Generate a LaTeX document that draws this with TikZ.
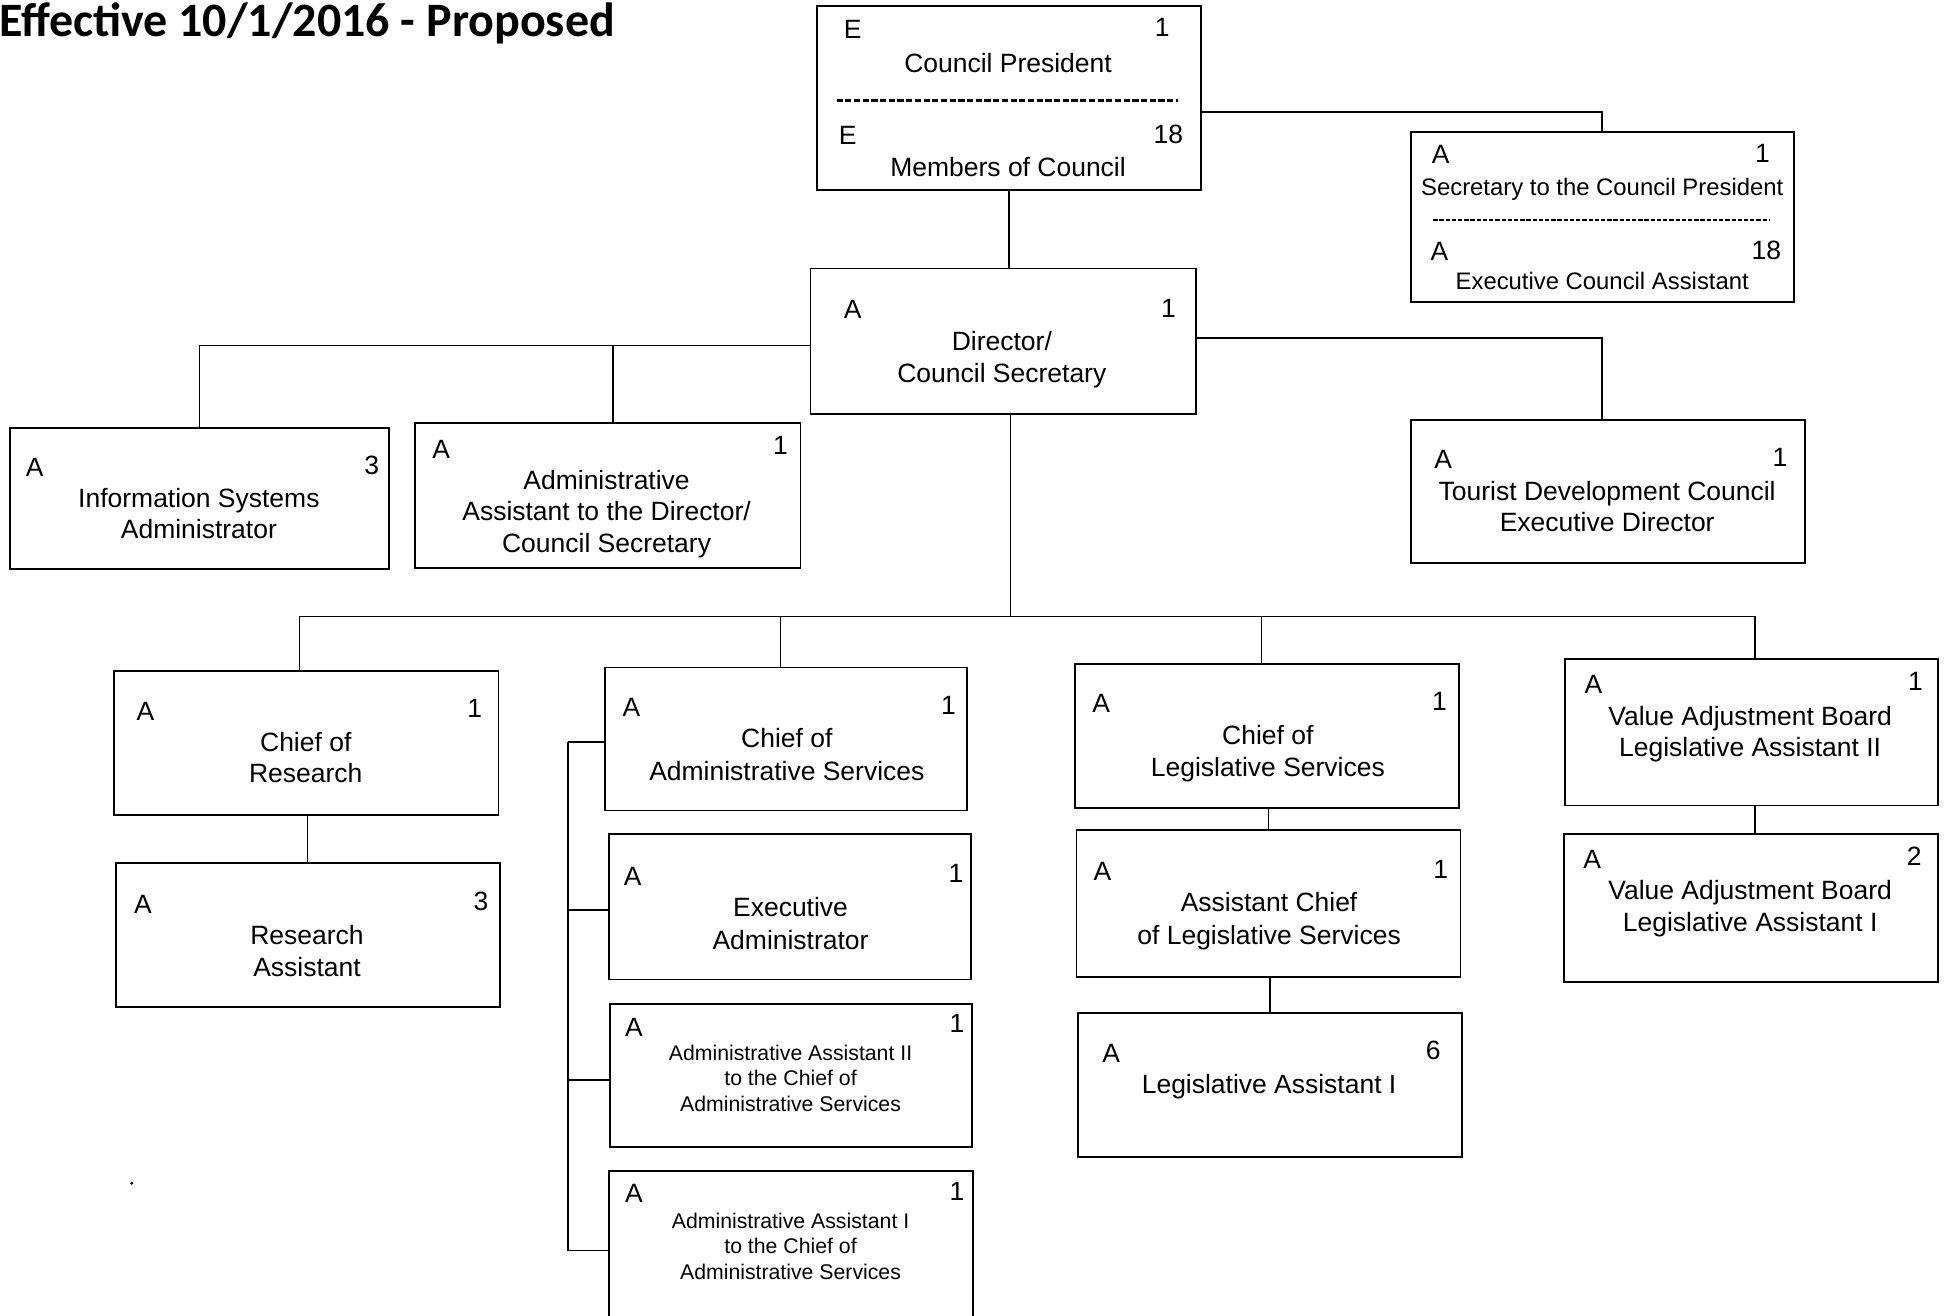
\documentclass[tikz,border=0pt]{standalone}
\usepackage{fontspec}
\setmainfont{Liberation Sans}
\newfontfamily\titlefont{Carlito}
\newcommand\obox[5]{\node[orgbox, minimum width={(#4-#2)*1pt}, minimum height={(#5-#3)*1pt}] (#1) at ({(#2+#4)/2},{-(#3+#5)/2}) {};}
\newcommand\lab[5]{\node[#1] (#2) at (#3,{-(#4)}) {#5};}
\begin{document}
\begin{tikzpicture}[x=1pt,y=1pt,
  orgbox/.style={draw, rectangle, line width=1.5pt, inner sep=0pt, outer sep=0pt},
  conn/.style={line width=1.3pt},
  sepline/.style={line width=2pt, dash pattern=on 5pt off 2pt},
  septhin/.style={line width=1.4pt, dash pattern=on 3.5pt off 1.5pt},
  big/.style={font=\fontsize{21.3}{26}\selectfont, inner sep=0pt, anchor=base, yshift=-7.6pt},
  med/.style={font=\fontsize{19.2}{23}\selectfont, inner sep=0pt, anchor=base, yshift=-6.9pt},
  small/.style={font=\fontsize{17.1}{20}\selectfont, inner sep=0pt, anchor=base, yshift=-6.1pt}]
\useasboundingbox (0,0) rectangle (1568,-1058);
\node[font=\titlefont\bfseries\fontsize{38.6}{44}\selectfont, inner sep=0pt, anchor=base west] (title) at (-1,-29) {Effective 10/1/2016 - Proposed};
% boxes
\obox{cp}{657}{5}{966}{153}
\obox{sec}{1135}{106}{1443}{243}
\obox{dir}{652}{216}{962}{333}
\obox{info}{8}{344}{313}{458}
\obox{aa}{334}{340}{644}{457}
\obox{tour}{1135}{338}{1452}{453}
\obox{cr}{92}{540}{401}{656}
\obox{ra}{93}{694}{402}{810}
\obox{cas}{487}{537}{778}{652}
\obox{ea}{490}{671}{781}{788}
\obox{aatwo}{491}{808}{782}{923}
\obox{aaone}{490}{942}{783}{1066}
\obox{cls}{865}{534}{1174}{650}
\obox{acls}{866}{668}{1175}{786}
\obox{laone}{867}{815}{1176}{931}
\obox{vabtwo}{1259}{530}{1559}{648}
\obox{vabone}{1258}{671}{1559}{790}
% separators
\draw[sepline] (673,-81) -- (948,-81);
\draw[septhin] (1153,-177) -- (1424,-177);
% labels
\lab{big}{cp-a}{686}{23}{E}
\lab{big}{cp-n}{935}{22}{1}
\lab{big}{cp-t}{811}{51}{Council President}
\lab{big}{cp-b}{682}{109}{E}
\lab{big}{cp-m}{940}{108}{18}
\lab{big}{cp-u}{811}{134}{Members of Council}
\lab{big}{sec-a}{1159}{124}{A}
\lab{big}{sec-n}{1418}{123}{1}
\lab{med}{sec-t}{1289}{150}{Secretary to the Council President}
\lab{big}{sec-b}{1158}{202}{A}
\lab{big}{sec-m}{1421}{201}{18}
\lab{med}{sec-u}{1289}{226}{Executive Council Assistant}
\lab{big}{dir-a}{686}{249}{A}
\lab{big}{dir-n}{940}{248}{1}
\lab{big}{dir-t}{806}{274}{Director/}
\lab{big}{dir-u}{806}{300}{Council Secretary}
\lab{big}{info-a}{28}{376}{A}
\lab{big}{info-n}{299}{374}{3}
\lab{big}{info-t}{160}{401}{Information Systems}
\lab{big}{info-u}{160}{426}{Administrator}
\lab{big}{aa-a}{355}{361}{A}
\lab{big}{aa-n}{628}{358}{1}
\lab{big}{aa-t}{488}{386}{Administrative}
\lab{big}{aa-u}{488}{411}{Assistant to the Director/}
\lab{big}{aa-v}{488}{437}{Council Secretary}
\lab{big}{tour-a}{1161}{369}{A}
\lab{big}{tour-n}{1432}{368}{1}
\lab{big}{tour-t}{1293}{395}{Tourist Development Council}
\lab{big}{tour-u}{1293}{420}{Executive Director}
\lab{big}{cr-a}{117}{572}{A}
\lab{big}{cr-n}{382}{570}{1}
\lab{big}{cr-t}{246}{597}{Chief of}
\lab{big}{cr-u}{246}{622}{Research}
\lab{big}{ra-a}{115}{727}{A}
\lab{big}{ra-n}{387}{725}{3}
\lab{big}{ra-t}{247}{752}{Research}
\lab{big}{ra-u}{247}{778}{Assistant}
\lab{big}{cas-a}{508}{569}{A}
\lab{big}{cas-n}{763}{567}{1}
\lab{big}{cas-t}{633}{594}{Chief of}
\lab{big}{cas-u}{633}{620}{Administrative Services}
\lab{big}{ea-a}{509}{705}{A}
\lab{big}{ea-n}{769}{702}{1}
\lab{big}{ea-t}{636}{730}{Executive}
\lab{big}{ea-u}{636}{756}{Administrator}
\lab{big}{aatwo-a}{510}{826}{A}
\lab{big}{aatwo-n}{770}{823}{1}
\lab{small}{aatwo-t}{636}{847}{Administrative Assistant II}
\lab{small}{aatwo-u}{636}{867}{to the Chief of}
\lab{small}{aatwo-v}{636}{888}{Administrative Services}
\lab{big}{aaone-a}{510}{960}{A}
\lab{big}{aaone-n}{770}{958}{1}
\lab{small}{aaone-t}{636}{982}{Administrative Assistant I}
\lab{small}{aaone-u}{636}{1002}{to the Chief of}
\lab{small}{aaone-v}{636}{1023}{Administrative Services}
\lab{big}{cls-a}{886}{566}{A}
\lab{big}{cls-n}{1158}{564}{1}
\lab{big}{cls-t}{1020}{591}{Chief of}
\lab{big}{cls-u}{1020}{617}{Legislative Services}
\lab{big}{acls-a}{887}{701}{A}
\lab{big}{acls-n}{1159}{699}{1}
\lab{big}{acls-t}{1021}{726}{Assistant Chief}
\lab{big}{acls-u}{1021}{752}{of Legislative Services}
\lab{big}{laone-a}{894}{847}{A}
\lab{big}{laone-n}{1153}{845}{6}
\lab{big}{laone-t}{1021}{872}{Legislative Assistant I}
\lab{big}{vabtwo-a}{1282}{550}{A}
\lab{big}{vabtwo-n}{1541}{548}{1}
\lab{big}{vabtwo-t}{1408}{576}{Value Adjustment Board}
\lab{big}{vabtwo-u}{1408}{601}{Legislative Assistant II}
\lab{big}{vabone-a}{1281}{691}{A}
\lab{big}{vabone-n}{1540}{689}{2}
\lab{big}{vabone-t}{1408}{716}{Value Adjustment Board}
\lab{big}{vabone-u}{1408}{742}{Legislative Assistant I}
% connectors
\draw[conn] (cp.south) -- (cp.south |- dir.north);
\draw[conn] ([yshift=-11pt]cp.east) -| (sec.north);
\draw[conn] ([yshift=-3.5pt]dir.west) -| (info.north);
\draw[conn] ([xshift=4pt]aa.north) |- ([yshift=-3.5pt]dir.west);
\draw[conn] ([yshift=2.5pt]dir.east) -| ([xshift=-4.5pt]tour.north);
\coordinate (bus) at (813,-496);
\draw[conn] ([xshift=6pt]dir.south) -- (bus);
\draw[conn] (bus) -| ([xshift=-5.5pt]cr.north);
\draw[conn] (bus) -| ([xshift=-4.5pt]cas.north);
\draw[conn] (bus) -| ([xshift=-4.5pt]cls.north);
\draw[conn] (bus) -| ([xshift=3pt]vabtwo.north);
\draw[conn] (ra.north |- cr.south) -- (ra.north);
\draw[conn] (acls.north |- cls.south) -- (acls.north);
\draw[conn] (laone.north |- acls.south) -- (laone.north);
\draw[conn] ([xshift=3.5pt]vabone.north) -- ([xshift=3.5pt]vabone.north |- vabtwo.south);
\coordinate (brk) at (457,-597);
\draw[conn] ([yshift=-2.5pt]cas.west) -- (brk);
\draw[conn] (brk) |- ([yshift=-2pt]aaone.west);
\draw[conn] (brk |- ea.west) ++(0,-2.5) -- ([yshift=-2.5pt]ea.west);
\draw[conn] (brk |- aatwo.west) ++(0,-3.5) -- ([yshift=-3.5pt]aatwo.west);
\fill (106,-952) circle (1.3);
\end{tikzpicture}
\end{document}
